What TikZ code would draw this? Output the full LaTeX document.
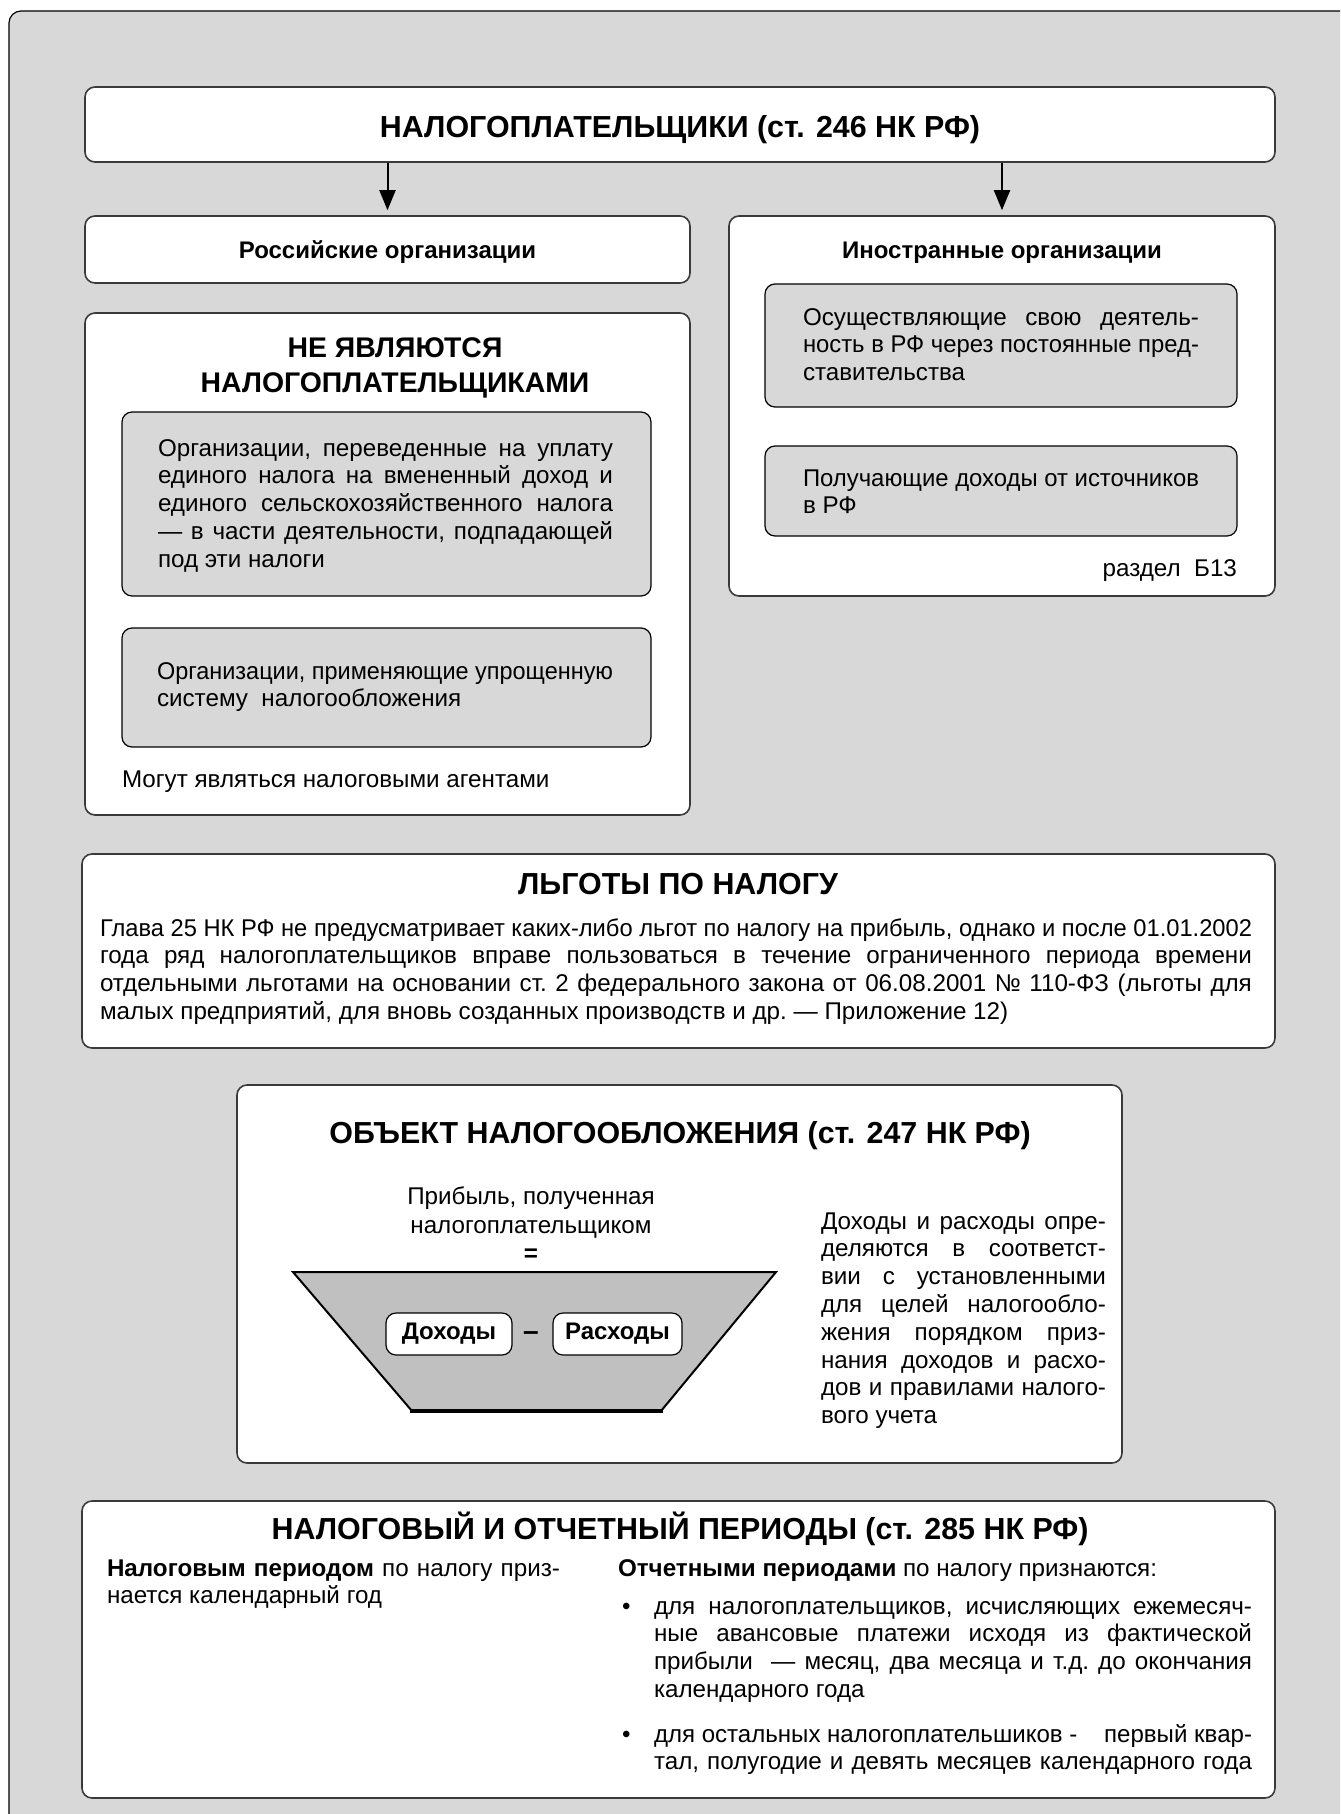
\documentclass[tikz,border=0pt]{standalone}
\usepackage{fontspec}
\setmainfont{Liberation Sans}
\usetikzlibrary{arrows.meta,calc}
\definecolor{bggray}{HTML}{D8D8D8}
\definecolor{trapgray}{HTML}{C0C0C0}
\definecolor{edgec}{HTML}{3A3A3A}
\newcommand\bodyfont{\fontsize{12.1}{13.9}\selectfont}
\newcommand\bigttl{\bfseries\fontsize{15.2}{17.5}\selectfont}
\newcommand\nettl{\bfseries\fontsize{14.2}{17.5}\selectfont}
\newcommand\subttl{\bfseries\fontsize{12}{14}\selectfont}
\newcommand\JLn[1]{\setbox0=\hbox{#1}\ifdim\wd0>\hsize\hbox to\hsize{\resizebox{\hsize}{\height}{#1}}\else\hbox to\hsize{#1}\fi}
\newcommand\LLn[1]{\hbox to \hsize{#1\hfil}}
\newcommand\TBlk[2]{\vtop{\hsize=#1\relax\frenchspacing #2}}
\tikzset{
  wbox/.style={draw=edgec, line width=0.8pt, fill=white, rounded corners=5pt, inner sep=0pt, rectangle},
  gbox/.style={draw=black, line width=0.6pt, fill=bggray, rounded corners=5pt, inner sep=0pt, rectangle},
  txt/.style={inner sep=0pt, outer sep=0pt, font=\bodyfont},
  arr/.style={line width=1pt, -{Triangle[length=10pt,width=8pt]}, shorten >=2.5pt},
}
\begin{document}
\begin{tikzpicture}[x=0.5pt,y=-0.5pt]
\useasboundingbox (0,0) rectangle (1340,1814);
\clip (0,0) rectangle (1340,1814);
\fill[white] (0,0) rectangle (1340,1814);
\draw[fill=bggray, line width=0.6pt, rounded corners=6pt] (9,11) rectangle (1380,1860);

% top
\node[wbox, minimum width=595pt, minimum height=37.5pt] (top) at (680,124.5) {};
\node[txt, font=\bigttl, anchor=base] (toptxt) at (680,137) {НАЛОГОПЛАТЕЛЬЩИКИ (ст. 246 НК РФ)};

% russian
\node[wbox, minimum width=302.5pt, minimum height=33.5pt] (rus) at (387.5,249.5) {};
\node[txt, font=\subttl, anchor=base] (rustxt) at (387.5,258.5) {Российские организации};

% foreign
\node[wbox, minimum width=273pt, minimum height=190pt] (for) at (1002,406) {};
\node[txt, font=\subttl, anchor=base] (fortxt) at (1002,258.5) {Иностранные организации};

\draw[arr] (top.south -| rus.north) -- (rus.north);
\draw[arr] (top.south -| for.north) -- (for.north);

\node[gbox, minimum width=236pt, minimum height=61.5pt] (f1) at (1001,345.5) {};
\node[txt, anchor=base west] (f1t) at (803,325) {\TBlk{198pt}{%
\JLn{Осуществляющие свою деятель-}%
\JLn{ность в РФ через постоянные пред-}%
\LLn{ставительства}}};
\node[gbox, minimum width=236pt, minimum height=45pt] (f2) at (1001,491) {};
\node[txt, anchor=base west] (f2t) at (803,486) {\TBlk{198pt}{%
\JLn{Получающие доходы от источников}%
\LLn{в РФ}}};
\node[txt, anchor=base east] (razdel) at (1237,576) {раздел\ \ Б13};

% not taxpayers
\node[wbox, minimum width=302.5pt, minimum height=251pt] (ne) at (387.5,564) {};
\node[txt, font=\nettl, anchor=base] (ne1) at (395,357) {НЕ ЯВЛЯЮТСЯ};
\node[txt, font=\nettl, anchor=base] (ne2) at (395,392) {НАЛОГОПЛАТЕЛЬЩИКАМИ};
\node[gbox, minimum width=264.5pt, minimum height=92pt] (g1) at (386.5,504) {};
\node[txt, anchor=base west] (g1t) at (158,456) {\TBlk{227.5pt}{%
\JLn{Организации, переведенные на уплату}%
\JLn{единого налога на вмененный доход и}%
\JLn{единого сельскохозяйственного налога}%
\JLn{— в части деятельности, подпадающей}%
\LLn{под эти налоги}}};
\node[gbox, minimum width=264.5pt, minimum height=59.5pt] (g2) at (386.5,687.5) {};
\node[txt, anchor=base west] (g2t) at (157,679) {\TBlk{228pt}{%
\JLn{Организации, применяющие упрощенную}%
\LLn{систему\ \ налогообложения}}};
\node[txt, anchor=base west] (agents) at (122,787) {Могут являться налоговыми агентами};

% benefits
\node[wbox, minimum width=596.5pt, minimum height=97pt] (lg) at (678.5,951) {};
\node[txt, font=\bigttl, anchor=base] (lgtxt) at (678,894) {ЛЬГОТЫ ПО НАЛОГУ};
\node[txt, anchor=base west] (lgt) at (100,936) {\TBlk{576pt}{%
\JLn{Глава 25 НК РФ не предусматривает каких-либо льгот по налогу на прибыль, однако и после 01.01.2002}%
\JLn{года ряд налогоплательщиков вправе пользоваться в течение ограниченного периода времени}%
\JLn{отдельными льготами на основании ст. 2 федерального закона от 06.08.2001 № 110-ФЗ (льготы для}%
\LLn{малых предприятий, для вновь созданных производств и др. — Приложение 12)}}};

% object
\node[wbox, minimum width=442.5pt, minimum height=189pt] (obj) at (679.5,1274) {};
\node[txt, font=\bigttl, anchor=base] (objtxt) at (680,1143) {ОБЪЕКТ НАЛОГООБЛОЖЕНИЯ (ст. 247 НК РФ)};
\node[txt, anchor=base] (prib1) at (531,1204) {Прибыль, полученная};
\node[txt, anchor=base] (prib2) at (531,1233) {налогоплательщиком};
\node[txt, font=\bfseries\bodyfont, anchor=base] (eq) at (531,1261) {=};
\fill[trapgray] (293,1272) -- (776,1272) -- (661,1411) -- (412,1411) -- cycle;
\draw[line width=1pt, line join=miter] (293,1272) -- (776,1272) -- (661,1411) -- (412,1411) -- cycle;
\draw[line width=2.2pt] (410,1411) -- (663,1411);
\node[wbox, draw=black, line width=0.6pt, minimum width=63pt, minimum height=21pt, font=\subttl] (dox) at (449,1334) {Доходы};
\node[wbox, draw=black, line width=0.6pt, minimum width=64.5pt, minimum height=21pt, font=\subttl] (rasx) at (617.5,1334) {Расходы};
\node[txt, font=\bfseries\fontsize{14}{16}\selectfont] (minus) at (531,1336) {–};
\node[txt, anchor=base west] (objr) at (821,1229) {\TBlk{142.5pt}{%
\JLn{Доходы и расходы опре-}%
\JLn{деляются в соответст-}%
\JLn{вии с установленными}%
\JLn{для целей налогообло-}%
\JLn{жения порядком приз-}%
\JLn{нания доходов и расхо-}%
\JLn{дов и правилами налого-}%
\LLn{вого учета}}};

% periods
\node[wbox, minimum width=596.5pt, minimum height=148.5pt] (per) at (678.5,1649.5) {};
\node[txt, font=\bigttl, anchor=base] (pertxt) at (680,1539) {НАЛОГОВЫЙ И ОТЧЕТНЫЙ ПЕРИОДЫ (ст. 285 НК РФ)};
\node[txt, anchor=base west] (perl) at (107,1576) {\TBlk{226.5pt}{%
\JLn{\textbf{Налоговым периодом} по налогу приз-}%
\LLn{нается календарный год}}};
\node[txt, anchor=base west] (perr) at (618,1576) {\textbf{Отчетными периодами} по налогу признаются:};
\node[txt, anchor=base west] (b1) at (622,1614) {•};
\node[txt, anchor=base west] (b1t) at (654,1614) {\TBlk{299pt}{%
\JLn{для налогоплательщиков, исчисляющих ежемесяч-}%
\JLn{ные авансовые платежи исходя из фактической}%
\JLn{прибыли\ \ — месяц, два месяца и т.д. до окончания}%
\LLn{календарного года}}};
\node[txt, anchor=base west] (b2) at (622,1742) {•};
\node[txt, anchor=base west] (b2t) at (654,1742) {\TBlk{299pt}{%
\JLn{для остальных налогоплательшиков -\ \ \ \ первый квар-}%
\JLn{тал, полугодие и девять месяцев календарного года}}};
\end{tikzpicture}
\end{document}
